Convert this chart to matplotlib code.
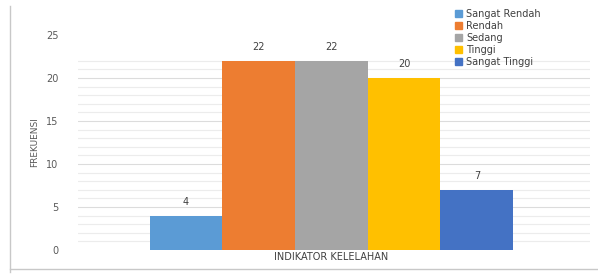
import numpy as np
import matplotlib.pyplot as plt
from matplotlib.lines import Line2D

# Chart data
categories = ["Sangat Rendah", "Rendah", "Sedang", "Tinggi", "Sangat Tinggi"]
values = [4, 22, 22, 20, 7]
colors = ["#5B9BD5", "#ED7D31", "#A5A5A5", "#FFC000", "#4472C4"]
y_ticks = [0, 5, 10, 15, 20, 25]

fig = plt.figure(figsize=(5.98, 2.8), dpi=100)
ax = fig.add_axes([0.130, 0.107, 0.857, 0.768])

# Faint gridlines at every unit
for v in range(1, 23):
    ax.axhline(v, color="#ececec" if v % 5 else "#dcdcdc", lw=0.8, zorder=0)

x = np.arange(len(values))
bars = ax.bar(x, values, width=1.0, color=colors, zorder=2)
for xi, v in zip(x, values):
    ax.text(xi, v + 1.0, str(v), ha="center", va="bottom", fontsize=7, color="#404040")

ax.set_xlim(-1.49, 5.56)
ax.set_ylim(0, 25)
ax.set_yticks(y_ticks)
ax.tick_params(axis="y", length=0, labelsize=7, labelcolor="#595959", pad=14)
ax.set_xticks([])
for s in ax.spines.values():
    s.set_visible(False)

ax.set_ylabel("FREKUENSI", fontsize=6.5, color="#595959", labelpad=5)
ax.text(2, -0.25, "INDIKATOR KELELAHAN", ha="center", va="top", fontsize=7, color="#404040")

# Legend in top right
handles = [plt.Rectangle((0, 0), 1, 1, color=c) for c in colors]
fig.legend(handles, categories, loc="upper left", bbox_to_anchor=(0.747, 1.0),
           frameon=False, fontsize=7, handlelength=0.7, handleheight=0.7,
           handletextpad=0.4, labelspacing=0.2, labelcolor="#404040")

# Outer frame lines
fig.add_artist(Line2D([0.017, 0.017], [0.03, 0.98], color="#c8c8c8", lw=1))
fig.add_artist(Line2D([0.017, 1.0], [0.04, 0.04], color="#c8c8c8", lw=1))

fig.savefig("out.png", dpi=100)
